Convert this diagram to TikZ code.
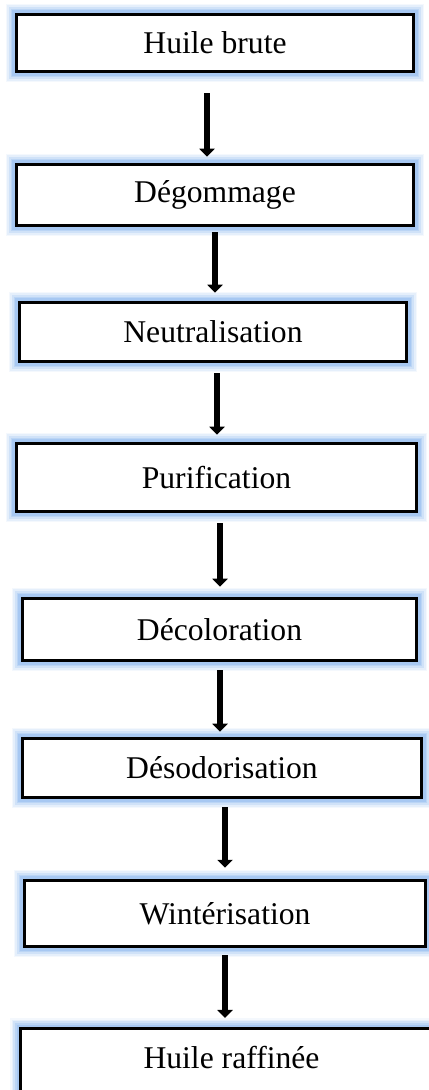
\documentclass[tikz,border=0pt]{standalone}
\usepackage{fontspec}
\setmainfont{Liberation Serif}
\usetikzlibrary{arrows.meta}
\definecolor{glow}{HTML}{94BDF0}

\tikzset{
  stage/.style={draw=black,line width=1.7pt,fill=white,inner sep=0pt,
    preaction={draw=glow,line width=12pt,opacity=0.10},
    preaction={draw=glow,line width=10pt,opacity=0.15},
    preaction={draw=glow,line width=8pt,opacity=0.25},
    preaction={draw=glow,line width=6pt,opacity=0.35},
    preaction={draw=glow,line width=4.5pt,opacity=0.5},
    font=\fontsize{18}{20}\selectfont},
  flow/.style={line width=3.7pt,-{Triangle[width=0.30cm,length=0.16cm]}}
}

\begin{document}
\begin{tikzpicture}[x=1cm,y=1cm]
  \useasboundingbox[fill=white] (0,0) rectangle (8.56,21.8);

  % refining stages
  \node[stage,minimum width=7.95cm,minimum height=1.15cm] (brute) at (4.30,20.94) {Huile brute};
  \node[stage,minimum width=7.95cm,minimum height=1.23cm] (degom) at (4.30,17.90) {Dégommage};
  \node[stage,minimum width=7.75cm,minimum height=1.19cm] (neutre) at (4.26,15.16) {Neutralisation};
  \node[stage,minimum width=8.01cm,minimum height=1.37cm] (purif) at (4.33,12.25) {Purification};
  \node[stage,minimum width=7.89cm,minimum height=1.25cm] (decol) at (4.39,9.21) {Décoloration};
  \node[stage,minimum width=7.99cm,minimum height=1.19cm] (desod) at (4.44,6.44) {Désodorisation};
  \node[stage,minimum width=8.03cm,minimum height=1.33cm] (winter) at (4.50,3.53) {Wintérisation};
  \node[stage,anchor=north west,minimum width=8.44cm,inner sep=0.1cm,
        text height=0.70cm,text depth=1.0cm] (raffine) at (0.38,1.26) {Huile raffinée};

  % arrows between stages
  \draw[flow,shorten <=0.40cm,shorten >=0.12cm] ([xshift=-0.16cm]brute.south) -- ([xshift=-0.16cm]brute.south |- degom.north);
  \draw[flow,shorten <=0.10cm,shorten >=0.16cm] (degom.south) -- (degom.south |- neutre.north);
  \draw[flow,shorten <=0.20cm,shorten >=0.14cm] ([xshift=0.08cm]neutre.south) -- ([xshift=0.08cm]neutre.south |- purif.north);
  \draw[flow,shorten <=0.20cm,shorten >=0.20cm] ([xshift=0.07cm]purif.south) -- ([xshift=0.07cm]purif.south |- decol.north);
  \draw[flow,shorten <=0.16cm,shorten >=0.10cm] ([xshift=0.01cm]decol.south) -- ([xshift=0.01cm]decol.south |- desod.north);
  \draw[flow,shorten <=0.16cm,shorten >=0.22cm] ([xshift=0.06cm]desod.south) -- ([xshift=0.06cm]desod.south |- winter.north);
  \draw[flow,shorten <=0.14cm,shorten >=0.18cm] (winter.south) -- (winter.south |- raffine.north);
\end{tikzpicture}
\end{document}
